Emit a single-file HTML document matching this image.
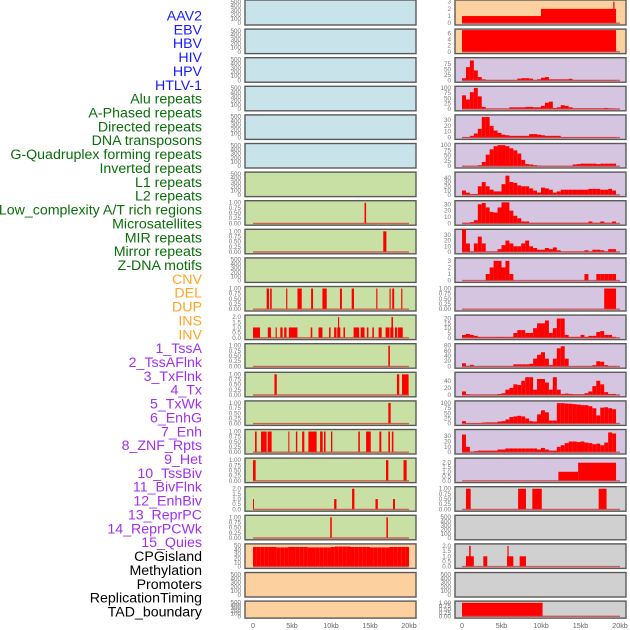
<!DOCTYPE html>
<html><head><meta charset="utf-8">
<style>
html,body{margin:0;padding:0;background:#fff;}
#wrap{position:relative;width:630px;height:630px;overflow:hidden;font-family:"Liberation Sans",sans-serif;}
svg{position:absolute;left:0;top:0;}
</style></head>
<body>
<div id="wrap">
<svg id="chart" width="630" height="630"></svg>
</div>
<script>
// ---------- data ----------
const trackLabels = ["AAV2","EBV","HBV","HIV","HPV","HTLV-1","Alu repeats","A-Phased repeats","Directed repeats","DNA transposons","G-Quadruplex forming repeats","Inverted repeats","L1 repeats","L2 repeats","Low_complexity A/T rich regions","Microsatellites","MIR repeats","Mirror repeats","Z-DNA motifs","CNV","DEL","DUP","INS","INV","1_TssA","2_TssAFlnk","3_TxFlnk","4_Tx","5_TxWk","6_EnhG","7_Enh","8_ZNF_Rpts","9_Het","10_TssBiv","11_BivFlnk","12_EnhBiv","13_ReprPC","14_ReprPCWk","15_Quies","CPGisland","Methylation","Promoters","ReplicationTiming","TAD_boundary"];
const labelGroups = ["v","v","v","v","v","v","r","r","r","r","r","r","r","r","r","r","r","r","r","s","s","s","s","s","c","c","c","c","c","c","c","c","c","c","c","c","c","c","c","o","o","o","o","o"];
const xTickLabels = ["0","5kb","10kb","15kb","20kb"];
const xTickValues = [0,5,10,15,20];

// left column segments [startKb, endKb, value]
const leftRow7 = [[14.3,14.5,1]];
const leftRow8 = [[16.7,17.1,1]];
const leftRow10 = [[1.75,2.05,1],[2.2,2.4,1],[4.25,4.4,1],[5.7,6.25,1],[7.45,7.7,1],[8.9,9.45,1],[11.15,11.4,1],[12.65,12.95,1],[15.8,15.95,1],[17.5,17.65,1],[17.85,18.1,1],[19.0,19.15,1]];
const leftRow11 = [[0,0.9,1],[1.9,2.3,1],[2.9,3.05,1],[3.5,3.8,1],[4.0,4.3,1],[4.6,5.7,1],[7.4,7.6,1],[8.4,8.9,1],[9.75,9.95,1],[10.4,10.7,1],[10.8,11.2,1],[10.9,11.05,2],[11.6,11.8,1],[12.9,13.6,1],[13.8,14.3,1],[14.6,14.8,1],[15.3,15.5,1],[16.1,16.5,1],[17.0,17.5,1],[17.6,18.0,1],[17.75,17.95,2],[18.2,18.5,1],[18.6,19.2,1]];
const leftRow12 = [[17.35,17.55,1]];
const leftRow13 = [[2.75,3.05,1],[18.45,18.75,1],[19.1,19.95,1]];
const leftRow14 = [[17.35,17.65,1]];
const leftRow15 = [[0.26,0.47,1],[1.03,1.75,1],[1.88,2.39,1],[4.53,4.66,1],[5.5,5.68,1],[6.3,6.58,1],[7.1,8.16,1],[8.6,8.93,1],[9.1,9.3,1],[10.0,10.17,1],[13.5,13.7,1],[14.5,15.1,1],[16.2,16.45,1],[17.35,17.56,1],[17.8,18.0,1]];
const leftRow16 = [[0,0.34,1],[17.05,17.35,1],[19.3,19.7,1]];
const leftRow17 = [[0,0.12,1],[10.4,10.7,1],[12.7,13.0,2],[15.7,16.0,1],[17.95,18.2,1]];
const leftRow18 = [[9.9,10.1,1],[17.1,17.3,1]];
const leftRow19Bins = [47,47,47,47,47,47,46,46,46,47,47,47,47,47,46,46,46,46,46,46,47,48,48,48,48,47,47,47,47,47,46,46,46,46,46,47,47,47,47,47];

// right column
const rightRow0 = [[0,10,1],[10,19.5,2],[19.15,19.3,3]];
const rightRow1 = [[0,19.5,7.1]];
const rightRow2Bins = [10,60,90,45,15,5,2,2,2,2,2,2,2,2,8,10,10,8,2,5,12,15,5,5,5,5,5,7,2,2,2,2,2,2,2,2,2,2,2];
const rightRow3Bins = [65,45,80,100,60,10,2,2,2,2,2,2,8,8,8,8,10,10,8,8,15,30,35,5,8,18,15,8,3,3,3,3,3,3,3,3,5,3,2];
const rightRow4Bins = [1,1,3,7,15,35,35,20,12,8,5,4,3,3,3,3,3,6,6,5,4,3,3,3,3,1,1,1,1,1,1,1,1,1,1,1,1,1,1];
const rightRow5Bins = [1,1,1,1,5,20,55,80,95,100,100,95,85,75,60,30,10,8,5,3,1,1,1,1,1,1,1,1,8,10,12,12,12,12,10,12,12,12,12];
const rightRow6Bins = [10,5,2,2,20,30,20,12,8,8,25,45,30,28,22,20,20,15,10,5,17,15,12,5,8,12,12,12,12,12,12,12,14,14,14,12,12,14,10];
const rightRow7Bins = [1,1,2,5,30,32,25,18,17,25,33,33,20,12,8,3,3,1,1,1,1,1,1,1,1,1,1,1,1,1,1,1,3,1,1,3,1,1,3];
const rightRow8Bins = [40,15,1,15,27,15,1,1,1,5,12,20,15,10,10,15,20,10,7,4,4,7,5,8,3,1,1,1,1,1,1,3,1,4,4,3,1,5,5];
const rightRow9Bins = [0,0,0,0,0,0,1,2,3,3,2,3,1,0,0,0,0,0,0,0,0,0,0,0,0,0,0,0,0,0,0,1,0,0,1,1,1,1,1];
const rightRow10 = [[18,19.5,1]];
const rightRow11Bins = [3,4,3,2,1,1,1,1,1,1,1,1,1,5,8,8,5,5,10,15,15,18,5,10,20,20,3,1,1,1,3,1,2,2,6,7,3,3,1];
const rightRow12Bins = [12,2,6,1,1,1,1,1,1,1,1,1,1,8,8,8,8,10,30,45,55,30,5,30,70,78,30,1,1,1,1,1,1,5,20,18,5,1,1];
const rightRow13Bins = [10,2,1,1,1,1,1,1,1,3,5,15,20,30,28,40,50,50,15,45,45,35,15,50,15,3,4,3,2,2,2,5,10,25,40,30,8,3,3];
const rightRow14Bins = [12,3,3,3,3,5,6,6,6,10,12,20,32,35,38,35,25,12,10,45,65,55,15,15,100,100,98,97,95,93,90,90,85,75,40,78,80,75,70];
const rightRow15Bins = [33,10,1,2,3,3,3,3,3,5,5,7,7,7,7,7,7,7,7,5,8,5,3,3,10,13,17,20,20,19,20,18,17,15,16,13,18,37,35];
const rightRow16 = [[12.2,14.7,1],[14.7,19.5,2]];
const rightRow17 = [[0.5,1.1,1],[7.1,8.1,1],[8.9,10.1,1],[17.3,18.3,1]];
const rightRow19 = [[0.5,1.5,1],[0.9,1.1,2],[2.7,3.2,1],[5.7,6.5,1],[5.75,5.9,2],[7.3,8.1,1]];
const rightRow21 = [[0,10.2,1]];

// tick sets
const ticks500 = [0,100,200,300,400,500];
const ticks1 = [0,0.25,0.5,0.75,1];
const ticks2 = [0,0.5,1,1.5,2];

// ---------- drawing ----------
const svg = document.getElementById('chart');
const NS = 'http://www.w3.org/2000/svg';
function mk(tag, attrs){ const e=document.createElementNS(NS,tag); for(const k in attrs) e.setAttribute(k,attrs[k]); svg.appendChild(e); return e; }

const groupColor = {v:'#1a1aff', r:'#0a6e0a', s:'#ffa524', c:'#a030f0', o:'#000000'};
trackLabels.forEach((t,i)=>{
  const e = mk('text',{x:202,y:20.5+i*13.86,'text-anchor':'end','font-size':'14.2',fill:groupColor[labelGroups[i]]});
  e.textContent=t;
  
  
});

const BLUE='#c8e3ea', GREEN='#c8e0a4', PEACH='#fdd09f', LAV='#d5c5e0', GRAY='#d0d0d0';
const cols = {L:{x0:245,x1:416,d0:253,d1:409,tx:241}, R:{x0:455,x1:626,d0:462,d1:620,tx:451}};

function panel(col,row,bg,ticks,ymax,segs,bins,fmt){
  const c=cols[col];
  const top = row===0?0:row*28.6+0.5;
  const h = row===21?17:(row===0?25:24.5);
  const bot = top+h;
  const base = bot-1.8, ytop = top+1;
  const sx = v=>c.d0+(c.d1-c.d0)*v/20;
  const sy = v=>base-(base-ytop)*v/ymax;
  const r = mk('rect',{x:c.x0,y:top,width:c.x1-c.x0,height:h,fill:bg,stroke:'#5a5a5a','stroke-width':1.4});
  
  
  ticks.forEach(tv=>{
    const t = mk('text',{x:c.tx,y:sy(tv)+2,'text-anchor':'end','font-size':'6.3',fill:'#777'});
    t.textContent = fmt?fmt(tv):String(tv);
    
    
  });
  const items=[];
  if(bins) bins.forEach((v,k)=>items.push([k*0.5,(k+1)*0.5,v]));
  if(segs) segs.forEach(s=>items.push(s));
  items.forEach(s=>{
    if(s[2]<=0) return;
    const b = mk('rect',{x:sx(s[0]),y:sy(s[2]),width:Math.max(1,sx(s[1])-sx(s[0])),height:base-sy(s[2]),fill:'#ff0000'});
    
    
  });
  if(segs||bins){
    const l = mk('line',{x1:sx(0),x2:sx(20),y1:base,y2:base,stroke:'#d04040','stroke-width':1.4,'stroke-opacity':0.8});
    
    
  }
}
const f2 = v=>v.toFixed(2), f1 = v=>v.toFixed(1);

// left column
for(let r=0;r<6;r++) panel('L',r,BLUE,ticks500,520,null,null);
panel('L',6,GREEN,ticks500,520,null,null);
panel('L',7,GREEN,ticks1,1.05,leftRow7,null,f2);
panel('L',8,GREEN,ticks1,1.05,leftRow8,null,f2);
panel('L',9,GREEN,ticks500,520,null,null);
panel('L',10,GREEN,ticks1,1.05,leftRow10,null,f2);
panel('L',11,GREEN,ticks2,2.1,leftRow11,null,f1);
panel('L',12,GREEN,ticks1,1.05,leftRow12,null,f2);
panel('L',13,GREEN,ticks1,1.05,leftRow13,null,f2);
panel('L',14,GREEN,ticks1,1.05,leftRow14,null,f2);
panel('L',15,GREEN,ticks1,1.05,leftRow15,null,f2);
panel('L',16,GREEN,ticks1,1.05,leftRow16,null,f2);
panel('L',17,GREEN,ticks2,2.1,leftRow17,null,f1);
panel('L',18,GREEN,ticks1,1.05,leftRow18,null,f2);
panel('L',19,PEACH,[0,10,20,30,40,50],52,null,leftRow19Bins);
panel('L',20,PEACH,ticks500,520,null,null);
panel('L',21,PEACH,ticks500,520,null,null);

// right column
panel('R',0,PEACH,[0,1,2,3],3.1,rightRow0,null);
panel('R',1,PEACH,[0,2,4,6],7.1,rightRow1,null);
panel('R',2,LAV,[0,25,50,75],98,null,rightRow2Bins);
panel('R',3,LAV,[0,25,50,75,100],103,null,rightRow3Bins);
panel('R',4,LAV,[0,10,20,30],37,null,rightRow4Bins);
panel('R',5,LAV,[0,25,50,75,100],103,null,rightRow5Bins);
panel('R',6,LAV,[0,10,20,30,40],51,null,rightRow6Bins);
panel('R',7,LAV,[0,10,20,30],34,null,rightRow7Bins);
panel('R',8,LAV,[0,10,20,30],38,null,rightRow8Bins);
panel('R',9,LAV,[0,1,2,3],3.3,null,rightRow9Bins);
panel('R',10,LAV,ticks1,1.05,rightRow10,null,f2);
panel('R',11,LAV,[0,5,10,15,20],22.5,null,rightRow11Bins);
panel('R',12,LAV,[0,20,40,60,80],84,null,rightRow12Bins);
panel('R',13,LAV,[0,20,40],61,null,rightRow13Bins);
panel('R',14,LAV,[0,25,50,75,100],106,null,rightRow14Bins);
panel('R',15,LAV,[0,10,20,30],40.6,null,rightRow15Bins);
panel('R',16,LAV,ticks2,2.4,rightRow16,null,f1);
panel('R',17,GRAY,ticks1,1.05,rightRow17,null,f2);
panel('R',18,GRAY,ticks500,520,null,null);
panel('R',19,GRAY,ticks2,2.1,rightRow19,null,f1);
panel('R',20,GRAY,ticks500,520,null,null);
panel('R',21,GRAY,ticks1,1.05,rightRow21,null,f2);

// x axes
['L','R'].forEach(cn=>{
  const c=cols[cn];
  xTickValues.forEach((v,i)=>{
    const t = mk('text',{x:c.d0+(c.d1-c.d0)*v/20,y:628,'text-anchor':'middle','font-size':'7.2',fill:'#666'});
    t.textContent = xTickLabels[i];
    
    
  });
});
</script>
</body></html>
